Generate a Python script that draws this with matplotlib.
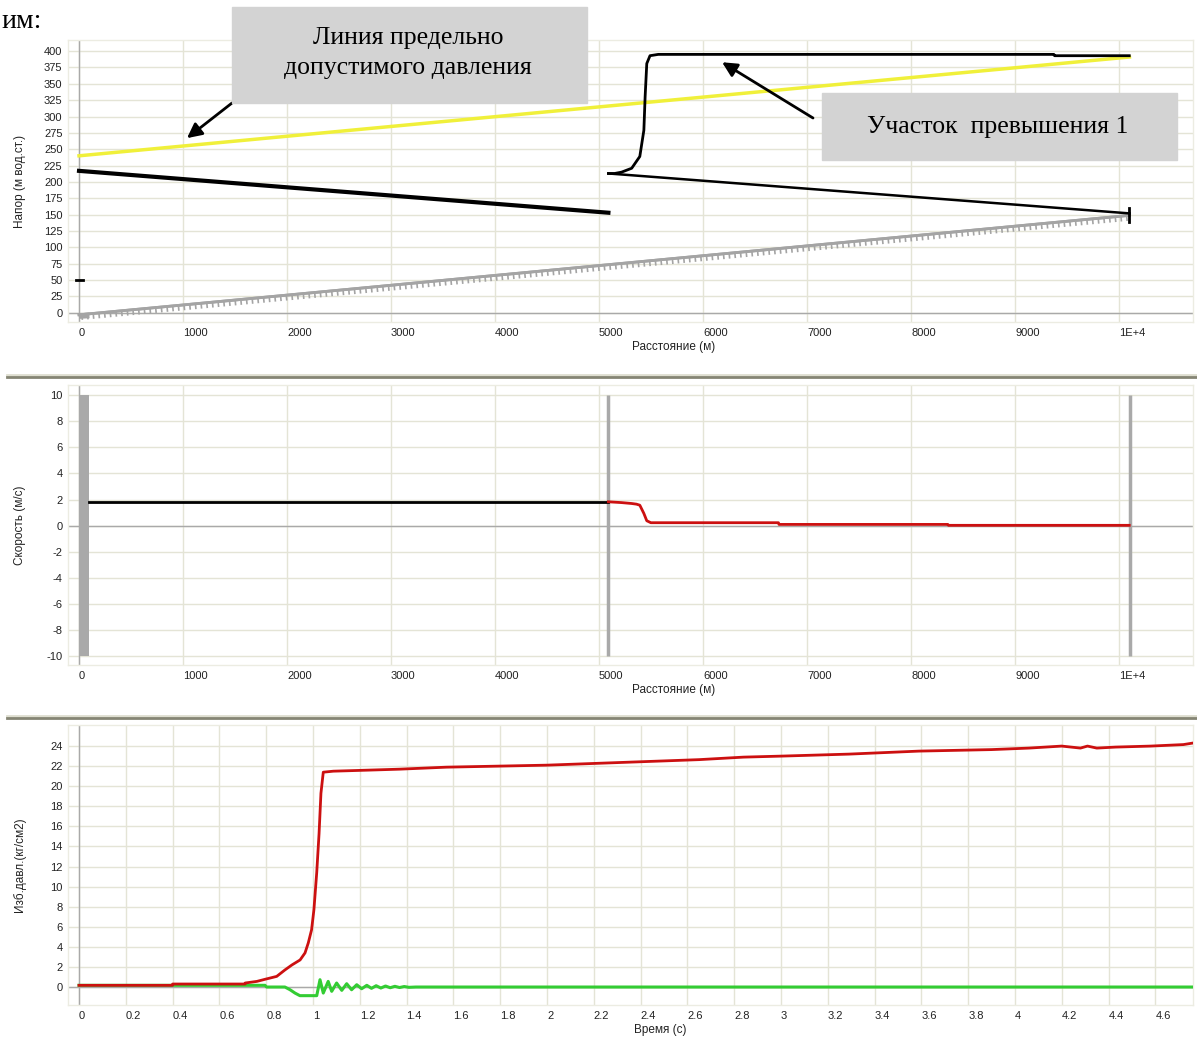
import matplotlib
matplotlib.use("Agg")
import matplotlib.pyplot as plt
import matplotlib.patheffects as pe
from matplotlib.patches import Rectangle
from matplotlib.lines import Line2D

W, H = 1197, 1041
plt.rcParams["axes.unicode_minus"] = False

# --- напор по длине трубопровода ---
limit_x = [0, 10100]
limit_y = [240, 391]
head_a_x = [0, 5090]
head_a_y = [217, 153]
head_b_x = [5090, 10100]
head_b_y = [213, 152]
surge_x = [5090, 5150, 5216, 5314, 5392, 5431, 5443, 5459, 5490, 5569, 9373, 9380, 10098]
surge_y = [213, 213, 215, 221, 239, 279, 330, 381, 393, 395, 395, 393, 393]
end_tick_y = [139, 160]
start_mark_x = [-25, 40]
start_mark_y = [50, 50]
ground_x = [0, 10100]
ground_y = [-3, 149]
pump_x = [0, 100]
pump_y = [-5, -4]

# --- скорость ---
vel_black_x = [100, 5090]
vel_black_y = [1.83, 1.83]
vel_red_x = [5090, 5216, 5314, 5360, 5392, 5431, 5459, 5498, 6725, 6730, 8353, 8360, 10098]
vel_red_y = [1.83, 1.77, 1.70, 1.65, 1.57, 0.94, 0.38, 0.23, 0.23, 0.10, 0.10, 0.03, 0.03]
node_x = [5090, 10105]

# --- избыточное давление во времени ---
p_red_t = [0, 0.40, 0.40, 0.71, 0.71, 0.76, 0.80, 0.845, 0.88, 0.91, 0.945, 0.966, 0.98,
           0.994, 1.004, 1.016, 1.026, 1.034, 1.044, 1.087, 1.23, 1.37, 1.57, 2.0, 2.65,
           2.84, 3.0, 3.29, 3.59, 3.9, 4.06, 4.2, 4.28, 4.31, 4.35, 4.43, 4.58, 4.72, 4.76]
p_red_v = [0.17, 0.17, 0.3, 0.3, 0.4, 0.56, 0.8, 1.06, 1.7, 2.2, 2.7, 3.4, 4.4,
           5.7, 7.7, 11.4, 15.3, 19.3, 21.4, 21.5, 21.6, 21.7, 21.9, 22.1, 22.65,
           22.9, 23.0, 23.2, 23.5, 23.65, 23.8, 24.0, 23.8, 24.0, 23.8, 23.9, 24.0, 24.15, 24.3]
p_green_t = [0, 0.795, 0.802, 0.880, 0.902, 0.923, 0.944, 1.016, 1.030, 1.044, 1.065, 1.080,
             1.101, 1.123, 1.144, 1.165, 1.187, 1.208, 1.23, 1.25, 1.27, 1.29, 1.31, 1.33,
             1.35, 1.37, 1.39, 1.41, 1.44, 4.76]
p_green_v = [0.17, 0.17, 0.0, 0.0, -0.27, -0.6, -0.86, -0.86, 0.73, -0.6, 0.56, -0.43,
             0.4, -0.33, 0.33, -0.27, 0.23, -0.17, 0.17, -0.13, 0.13, -0.1, 0.1, -0.07,
             0.07, -0.05, 0.05, -0.03, 0.0, 0.0]

dist_ticks = list(range(0, 10001, 1000))
dist_labels = [str(v) for v in dist_ticks[:-1]] + ["1E+4"]
time_ticks = [round(0.2 * i, 1) for i in range(24)]
time_labels = [f"{v:g}" for v in time_ticks]

GRID = "#e4e4d6"
ZERO = "#a9a9a9"


def px_axes(fig, left, top, right, bottom):
    return fig.add_axes([left / W, 1 - bottom / H, (right - left) / W, (bottom - top) / H])


def style(ax, xticks, xlabels, yticks):
    ax.set_xticks(xticks, labels=xlabels, ha="left")
    ax.set_yticks(yticks)
    ax.tick_params(length=0, pad=4, labelsize=8, labelcolor="#222222")
    for lab in ax.get_xticklabels() + ax.get_yticklabels():
        lab.set_family("Liberation Sans")
    ax.grid(True, color=GRID, lw=1)
    ax.set_axisbelow(True)
    for sp in ax.spines.values():
        sp.set_color("#ecece2")
        sp.set_linewidth(1)
    ax.axhline(0, color=ZERO, lw=1, zorder=1)
    ax.axvline(0, color=ZERO, lw=1, zorder=1)


fig = plt.figure(figsize=(W / 100, H / 100), dpi=100)

# верхний график: напор
ax1 = px_axes(fig, 68, 40, 1193, 322)
style(ax1, dist_ticks, dist_labels, range(0, 401, 25))
ax1.set_xlim(-106, 10711)
ax1.set_ylim(-14, 417)
ax1.plot(ground_x, ground_y, color="#a4a4a4", lw=2, zorder=2,
         path_effects=[pe.Stroke(), pe.withTickedStroke(spacing=4.1, angle=-90,
                                                        length=0.8, linewidth=1.2)])
ax1.plot(pump_x, pump_y, color="#a4a4a4", lw=4, solid_capstyle="butt", zorder=2)
ax1.plot(limit_x, limit_y, color="#f0f03a", lw=2.5, zorder=3)
ax1.plot(head_a_x, head_a_y, color="black", lw=3, zorder=4)
ax1.plot(head_b_x, head_b_y, color="black", lw=1.8, zorder=4)
ax1.plot(surge_x, surge_y, color="black", lw=2, zorder=4)
ax1.plot([head_b_x[-1]] * 2, end_tick_y, color="black", lw=2, zorder=4)
ax1.plot(start_mark_x, start_mark_y, color="black", lw=2, zorder=4)
ax1.set_xlabel("Расстояние (м)", fontsize=8.5, family="Liberation Sans", color="#222222")
ax1.xaxis.set_label_coords(0.538, -0.068)
ax1.set_ylabel("Напор (м вод.ст.)", fontsize=8.5, family="Liberation Sans", color="#222222")
ax1.yaxis.set_label_coords(-0.037, 0.5)

# средний график: скорость
ax2 = px_axes(fig, 68, 385, 1193, 665)
style(ax2, dist_ticks, dist_labels, range(-10, 11, 2))
ax2.set_xlim(-106, 10711)
ax2.set_ylim(-10.66, 10.77)
ax2.bar(0, 20, bottom=-10, width=100, align="edge", color="#a9a9a9", zorder=2)
ax2.vlines(node_x, -10, 10, color="#a9a9a9", lw=2.5, zorder=2)
ax2.plot(vel_black_x, vel_black_y, color="black", lw=2, zorder=3)
ax2.plot(vel_red_x, vel_red_y, color="#cc1010", lw=2, zorder=3)
ax2.set_xlabel("Расстояние (м)", fontsize=8.5, family="Liberation Sans", color="#222222")
ax2.xaxis.set_label_coords(0.538, -0.068)
ax2.set_ylabel("Скорость (м/с)", fontsize=8.5, family="Liberation Sans", color="#222222")
ax2.yaxis.set_label_coords(-0.037, 0.5)

# нижний график: давление во времени
ax3 = px_axes(fig, 68, 725, 1193, 1005)
style(ax3, time_ticks, time_labels, range(0, 25, 2))
ax3.set_xlim(-0.047, 4.761)
ax3.set_ylim(-1.79, 26.1)
ax3.plot(p_green_t, p_green_v, color="#33cc33", lw=2.2, zorder=3)
ax3.plot(p_red_t, p_red_v, color="#cc1010", lw=2, zorder=4)
ax3.set_xlabel("Время (с)", fontsize=8.5, family="Liberation Sans", color="#222222")
ax3.xaxis.set_label_coords(0.526, -0.068)
ax3.set_ylabel("Изб.давл.(кг/см2)", fontsize=8.5, family="Liberation Sans", color="#222222")
ax3.yaxis.set_label_coords(-0.037, 0.5)

# разделители окон
for y in (377, 718):
    fig.add_artist(Line2D([7 / W, 1], [1 - (y - 2) / H] * 2, color="#deded0", lw=2))
    fig.add_artist(Line2D([7 / W, 1], [1 - y / H] * 2, color="#858574", lw=2))

# подписи с выносками
serif = "Liberation Serif"
fig.text(0.001, 1 - 22 / H, "им:", family=serif, fontsize=20, va="center", ha="left")

fig.add_artist(Rectangle((232 / W, 1 - 103 / H), 355 / W, 96 / H,
                         transform=fig.transFigure, color="#d3d3d3", zorder=5))
fig.text(408 / W, 1 - 53 / H, "Линия предельно\nдопустимого давления", family=serif,
         fontsize=18.5, ha="center", va="center", linespacing=1.5, zorder=6)
ax1.annotate("", xy=(1038, 267), xycoords="data",
             xytext=(232 / W, 1 - 103 / H), textcoords="figure fraction",
             arrowprops=dict(arrowstyle="-|>", color="black", lw=2, mutation_scale=22,
                             shrinkA=0, shrinkB=0), annotation_clip=False, zorder=6)

fig.add_artist(Rectangle((822 / W, 1 - 160 / H), 355 / W, 67 / H,
                         transform=fig.transFigure, color="#d3d3d3", zorder=5))
fig.text(998 / W, 1 - 127 / H, "Участок  превышения 1", family=serif,
         fontsize=18.5, ha="center", va="center", zorder=6)
ax1.annotate("", xy=(6183, 383), xycoords="data",
             xytext=(813 / W, 1 - 118 / H), textcoords="figure fraction",
             arrowprops=dict(arrowstyle="-|>", color="black", lw=2, mutation_scale=22,
                             shrinkA=0, shrinkB=0), annotation_clip=False, zorder=6)

fig.savefig("out.png", dpi=100)
